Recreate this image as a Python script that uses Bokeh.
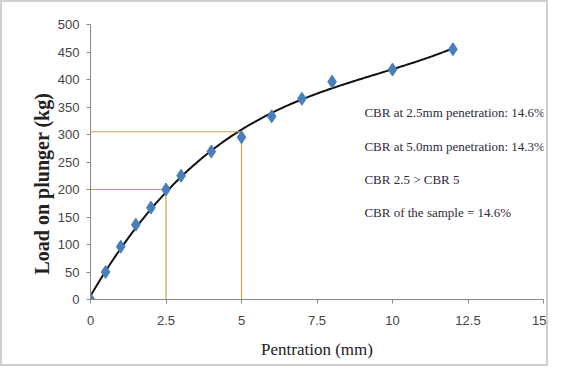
import numpy as np
from bokeh.plotting import figure
from bokeh.models import Label, FixedTicker, Range1d, Title
from bokeh.embed import file_html
from bokeh.resources import INLINE

penetration = [0, 0.5, 1.0, 1.5, 2.0, 2.5, 3.0, 4.0, 5.0, 6.0, 7.0, 8.0, 10.0, 12.0]
load = [0, 50, 96, 136, 167, 200, 225, 269, 295, 333, 365, 396, 418, 455]
x_ticks = [0, 2.5, 5, 7.5, 10, 12.5, 15]
y_ticks = [0, 50, 100, 150, 200, 250, 300, 350, 400, 450, 500]
guide_x = [2.5, 5.0]
guide_y = [200, 305]
notes = ["CBR at 2.5mm penetration: 14.6%",
         "CBR at 5.0mm penetration: 14.3%",
         "CBR 2.5 > CBR 5",
         "CBR of the sample = 14.6%"]
note_y = [340, 278, 218, 158]

p = figure(width=548, height=366, output_backend="svg", toolbar_location=None,
           x_range=Range1d(0, 15), y_range=Range1d(0, 500))
p.outline_line_color = None
p.border_fill_color = "white"
p.xgrid.visible = False
p.ygrid.visible = False
p.min_border = 0
p.min_border_left = 88
p.min_border_right = 7
p.min_border_top = 22
p.min_border_bottom = 69

# trendline fitted to the data
coef = np.polyfit(penetration, load, 3)
xs = np.linspace(0, 12, 200)
p.line(xs, np.polyval(coef, xs), line_color="#111111", line_width=2)

# guide lines
for gx, gy in zip(guide_x, guide_y):
    p.line([0, gx, gx], [gy, gy, 0], line_color="#c9a15a", line_width=1.2)

p.scatter(penetration, load, marker="diamond", size=13, fill_color="#4a7ebb",
          line_color="#4a7ebb")

for ax in (p.xaxis, p.yaxis):
    ax.axis_line_color = "#888888"
    ax.major_tick_line_color = "#888888"
    ax.minor_tick_line_color = None
    ax.major_tick_in = 0
    ax.major_tick_out = 4
    ax.major_label_text_font = "Liberation Sans"
    ax.major_label_text_font_size = "13px"
    ax.major_label_text_color = "#444444"

p.xaxis.ticker = FixedTicker(ticks=x_ticks)
p.yaxis.ticker = FixedTicker(ticks=y_ticks)
p.xaxis.major_label_overrides = {0: "0", 2.5: "2.5", 5: "5", 7.5: "7.5",
                                 10: "10", 12.5: "12.5", 15: "15"}
p.xaxis.major_label_standoff = 12
p.yaxis.major_label_standoff = 7

p.xaxis.axis_label = "Pentration (mm)"
p.xaxis.axis_label_text_font = "Liberation Serif"
p.xaxis.axis_label_text_font_style = "normal"
p.xaxis.axis_label_text_font_size = "17px"
p.xaxis.axis_label_text_color = "#222222"
p.xaxis.axis_label_standoff = 12

# y-axis title as a side title so it can be shifted like in the reference
p.add_layout(Title(text="Load on plunger  (kg)", align="left", offset=25,
                   text_font="Liberation Serif", text_font_style="bold",
                   text_font_size="20px", text_color="#222222", standoff=4), "left")

for t, ny in zip(notes, note_y):
    p.add_layout(Label(x=9.07, y=ny, text=t, text_font="Liberation Serif",
                       text_font_size="13px", text_color="#2e2a3a",
                       text_baseline="middle"))

p.styles = {"border": "2px solid #d0d0d0"}

open("out.html", "w").write(file_html(p, INLINE))
